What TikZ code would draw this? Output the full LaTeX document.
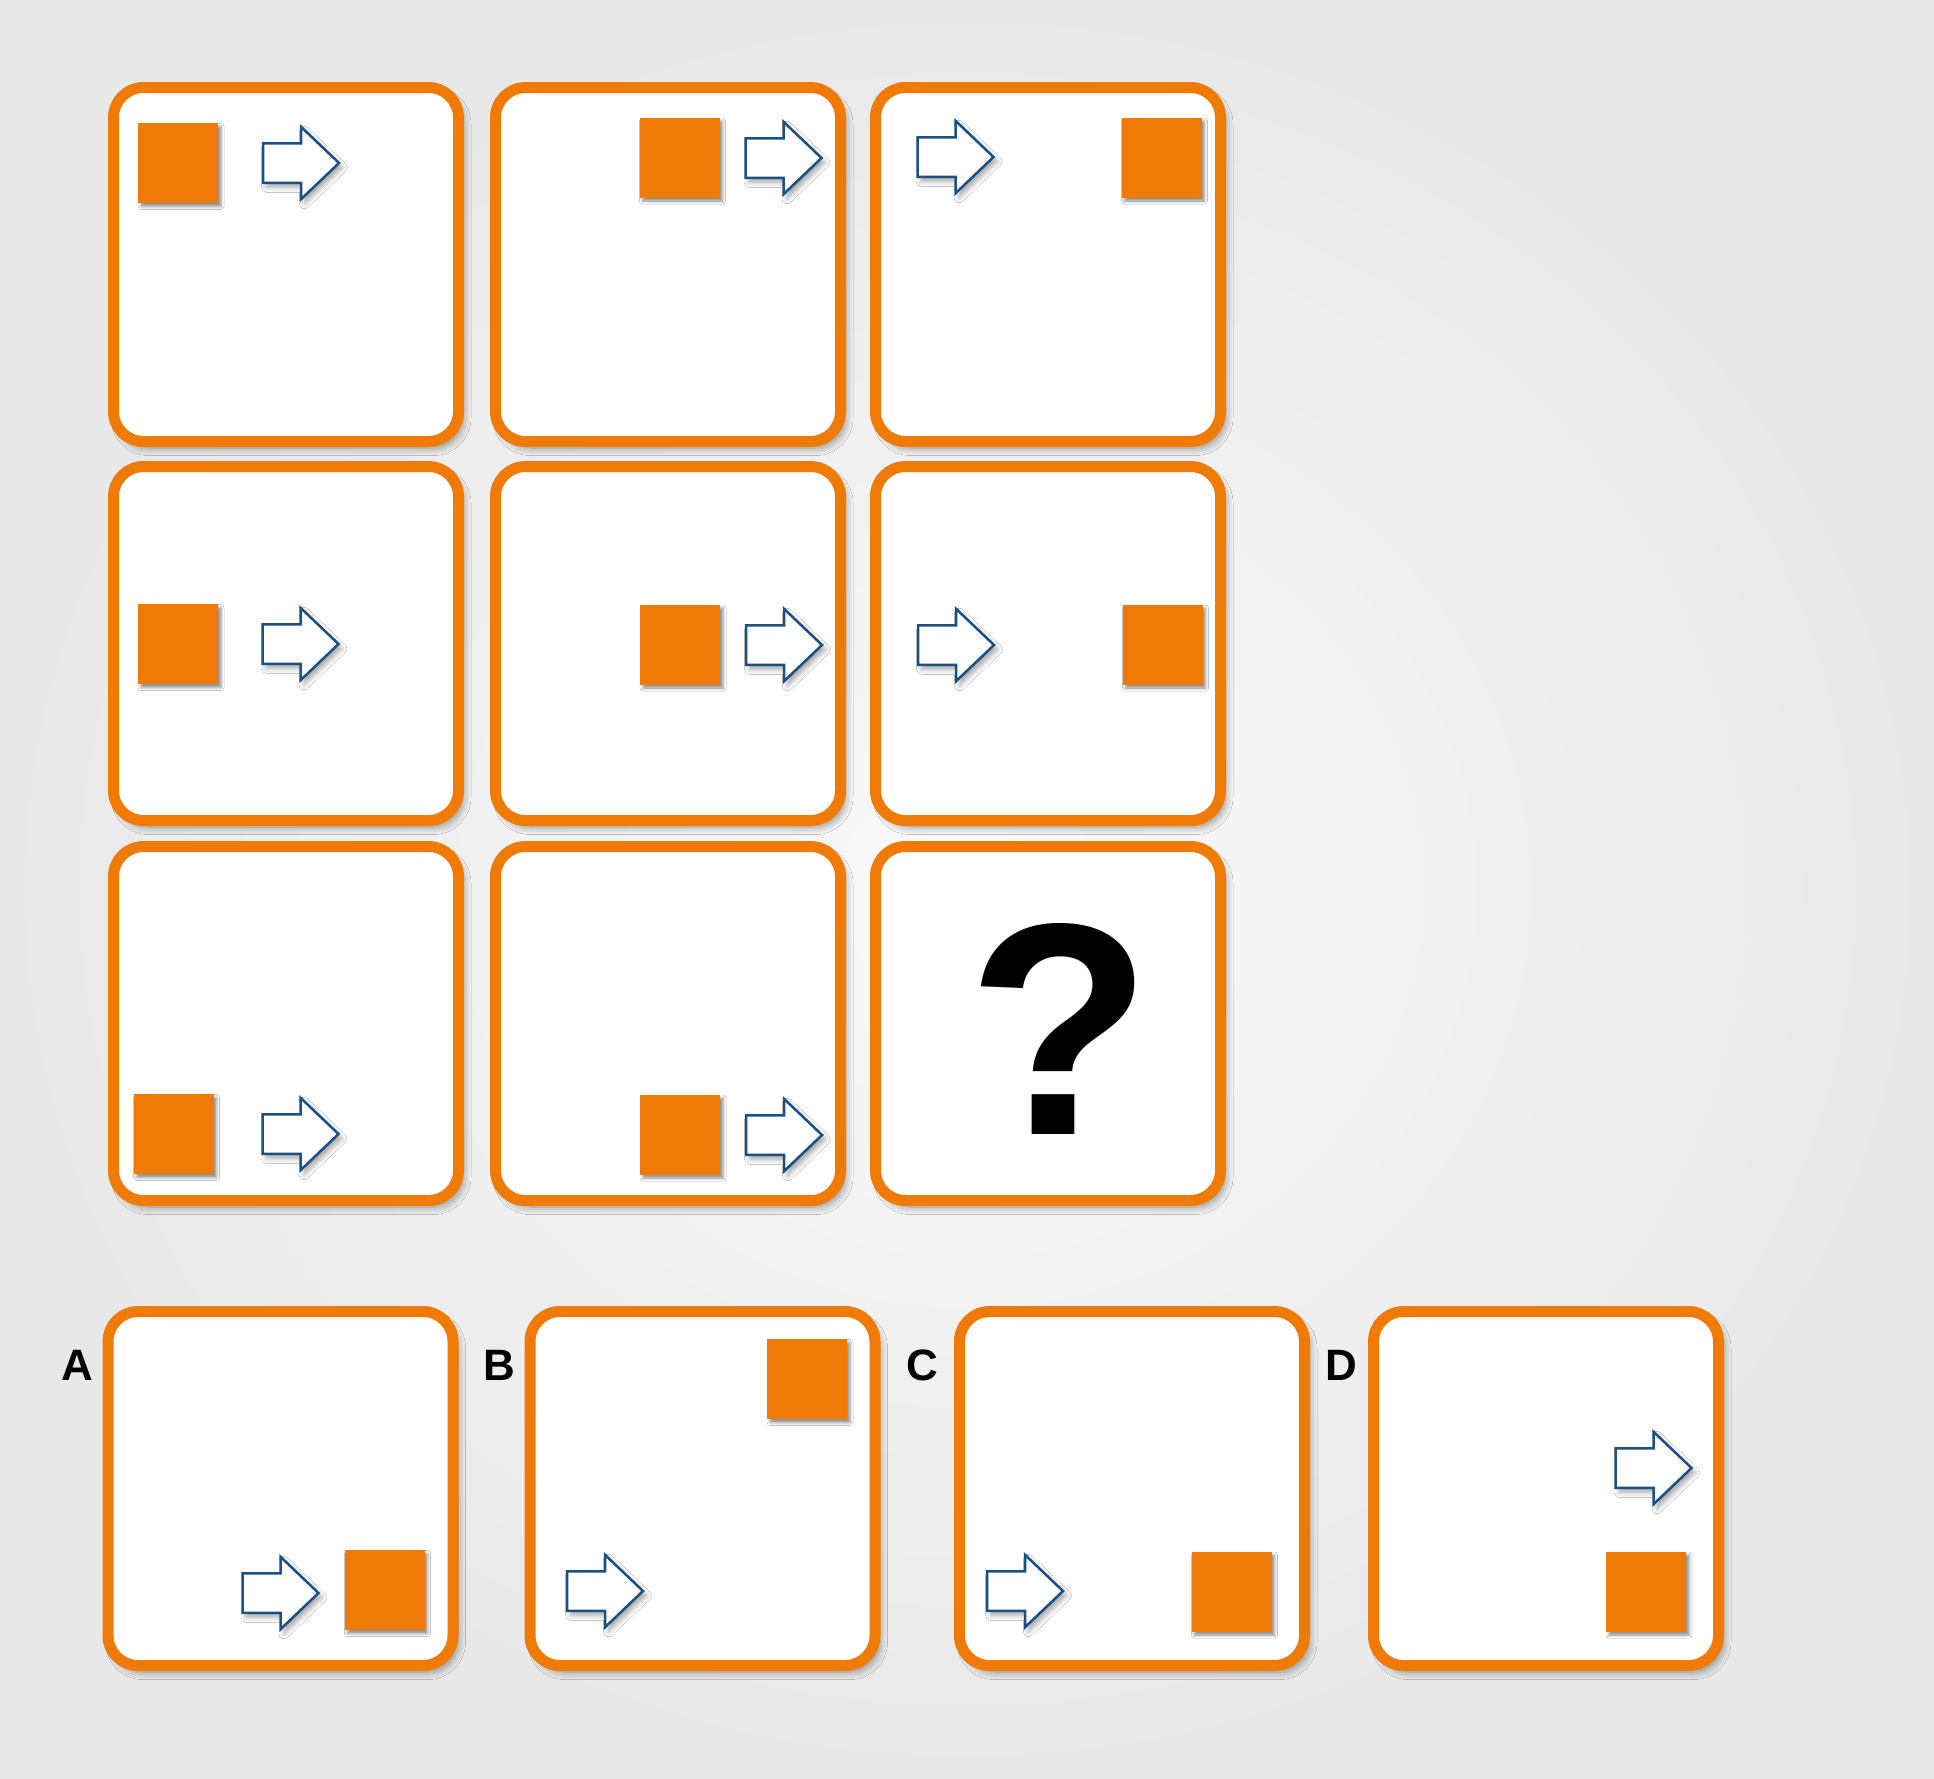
\documentclass[tikz,border=0pt]{standalone}
\usepackage{fontspec}
\setsansfont{Liberation Sans}
\usepackage{tikz}
\usetikzlibrary{shadows.blur}
\definecolor{cardorange}{RGB}{239,123,6}
\definecolor{arrowblue}{RGB}{26,80,130}
\tikzset{
  card/.style={draw=cardorange, line width=1.1mm, fill=white, rounded corners=3mm,
    minimum width=34.5mm, minimum height=35.4mm, inner sep=0pt,
    blur shadow={shadow xshift=0.5mm, shadow yshift=-0.65mm, shadow blur radius=0.75mm, shadow blur steps=10, shadow opacity=40}},
  tile/.style={fill=cardorange, minimum size=8mm, inner sep=0pt,
    blur shadow={shadow xshift=0.3mm, shadow yshift=-0.35mm, shadow blur radius=0.3mm, shadow opacity=45}},
  letter/.style={font=\sffamily\bfseries\fontsize{12.5}{12.5}\selectfont, inner sep=0pt},
  rarrow/.pic={
    \draw[arrowblue, fill=white, line width=0.25mm, line join=miter,
      blur shadow={shadow xshift=0.35mm, shadow yshift=-0.45mm, shadow blur radius=0.5mm, shadow opacity=35}]
      (-38,-19.75) -- (0,-19.75) -- (0,-36.25) -- (38,0) -- (0,36.25) -- (0,19.75) -- (-38,19.75) -- cycle;
  }
}
\begin{document}
\begin{tikzpicture}[x=0.1mm, y=-0.1mm]
  \useasboundingbox (0,0) rectangle (1934,1778);
  \shade[inner color=black!2, outer color=black!9] (0,0) rectangle (1934,1778);

  \foreach \r/\y in {1/264.5,2/643.5,3/1023.5}
    \foreach \c/\x in {1/286,2/668,3/1048}
      \node[card] (c-\r-\c) at (\x,\y) {};

  \node[card] (opt-A) at (280.5,1488.5) {};
  \node[card] (opt-B) at (702.5,1488.5) {};
  \node[card] (opt-C) at (1132,1488.5) {};
  \node[card] (opt-D) at (1546,1488.5) {};

  \node[letter] (lab-A) at (77,1365) {A};
  \node[letter] (lab-B) at (499,1365) {B};
  \node[letter] (lab-C) at (922,1365) {C};
  \node[letter] (lab-D) at (1341,1365) {D};

  \node[tile] (t-1-1) at (178,163) {};
  \node[tile] (t-1-2) at (679.5,157.5) {};
  \node[tile] (t-1-3) at (1161.5,157.5) {};
  \node[tile] (t-2-1) at (178,644) {};
  \node[tile] (t-2-2) at (680,644.5) {};
  \node[tile] (t-2-3) at (1162.5,644.5) {};
  \node[tile] (t-3-1) at (173.5,1134) {};
  \node[tile] (t-3-2) at (680,1134.5) {};
  \node[tile] (t-A) at (384.5,1590) {};
  \node[tile] (t-B) at (807,1379) {};
  \node[tile] (t-C) at (1231.5,1591.5) {};
  \node[tile] (t-D) at (1646,1591.5) {};

  \pic (a-1-1) at (301,163) {rarrow};
  \pic (a-1-2) at (783.5,158) {rarrow};
  \pic (a-1-3) at (955.5,157) {rarrow};
  \pic (a-2-1) at (300.5,644) {rarrow};
  \pic (a-2-2) at (784,645) {rarrow};
  \pic (a-2-3) at (956,645) {rarrow};
  \pic (a-3-1) at (300.5,1134) {rarrow};
  \pic (a-3-2) at (784,1135) {rarrow};
  \pic (a-A) at (280.5,1593) {rarrow};
  \pic (a-B) at (605,1591) {rarrow};
  \pic (a-C) at (1025,1591) {rarrow};
  \pic (a-D) at (1653.5,1468) {rarrow};

  \node[font=\sffamily\bfseries\fontsize{86}{86}\selectfont, inner sep=0pt] (qmark) at (1060,1028.5) {?};
\end{tikzpicture}
\end{document}
